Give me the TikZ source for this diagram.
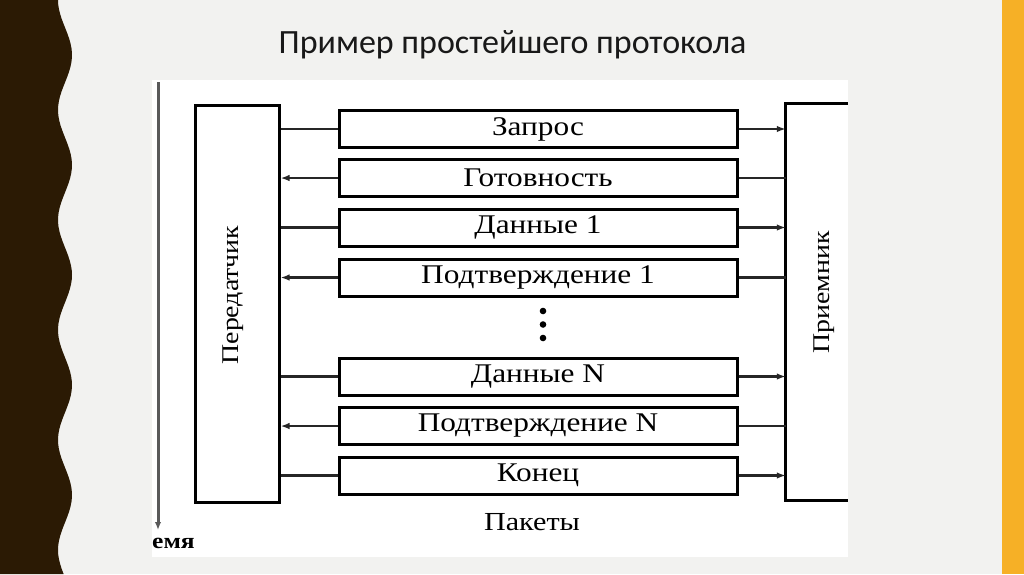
\documentclass[tikz,border=0pt]{standalone}
\usepackage{fontspec}
\setmainfont{Liberation Serif}[FakeStretch=1.16]
\newfontfamily\titlefont{Carlito}
\usetikzlibrary{arrows.meta}
\definecolor{slidebg}{HTML}{F2F2F0}
\definecolor{darkbrown}{HTML}{2B1A04}
\definecolor{accent}{HTML}{F6B026}
\definecolor{connc}{HTML}{262626}
\tikzset{
  pkt/.style={draw=black, line width=3pt, fill=white, minimum width=398pt, minimum height=37pt, inner sep=0pt, font=\fontsize{27}{30}\selectfont},
  bigbox/.style={draw=black, line width=3pt, inner sep=0pt},
  conn/.style={draw=connc, line width=2.1pt},
  tip/.style={-{Latex[length=9pt,width=6.5pt]}}
}
\begin{document}
\begin{tikzpicture}[x=1pt,y=-1pt]
\useasboundingbox (0,0) rectangle (1024,574);
\fill[slidebg] (0,0) rectangle (1024,574);
\fill[darkbrown] (0,0) -- plot[domain=0:574,samples=120] ({65+7*sin(3.272727*(\x-27.5))},\x) -- (0,574) -- cycle;
\fill[accent] (1002,0) rectangle (1024,574);
\node[font=\titlefont\fontsize{34}{40}\selectfont, text=black!90] (title) at (512.5,45) {Пример простейшего протокола};
\fill[white] (152,80) rectangle (848,557);
% time axis
\coordinate (tstart) at (158,82);
\coordinate (tend) at (158,530);
\draw[draw=black!65, line width=3pt, -{Latex[length=8pt,width=6.5pt]}] (tstart) -- (tend);
\node[font=\bfseries\fontsize{22}{24}\selectfont, anchor=base west, inner sep=0pt] (time) at (152,548) {емя};
% transmitter
\node[bigbox, minimum width=84pt, minimum height=397pt] (tx) at (237,303.5) {};
\node[rotate=90, font=\fontsize{24}{26}\selectfont, inner sep=0pt] (txl) at (233,295) {Передатчик};
% receiver
\node[minimum width=62pt, minimum height=396pt, inner sep=0pt] (rx) at (817,302) {};
\draw[black, line width=3pt] (rx.north east) -- (rx.north west) -- (rx.south west) -- (rx.south east);
\node[rotate=90, font=\fontsize{24}{26}\selectfont, inner sep=0pt] (rxl) at (824,292.5) {Приемник};
% packets
\node[pkt] (p1) at (538,129) {Запрос};
\node[pkt] (p2) at (538,178) {Готовность};
\node[pkt] (p3) at (538,227.5) {Данные 1};
\node[pkt] (p4) at (538,277.5) {Подтверждение 1};
\node[pkt] (p5) at (538,376.5) {Данные N};
\node[pkt] (p6) at (538,426) {Подтверждение N};
\node[pkt] (p7) at (538,475.5) {Конец};
\fill[black] (543,311) circle (3.3pt) (543,324.5) circle (3.3pt) (543,338) circle (3.3pt);
\node[font=\fontsize{26}{28}\selectfont] (lbl) at (532,522) {Пакеты};
% connectors: transmitter -> receiver
\foreach \p in {p1,p3,p5,p7}{
  \draw[conn] (\p.west) -- (\p.west -| tx.east);
  \draw[conn,tip] (\p.east) -- (\p.east -| rx.west);
}
% receiver -> transmitter
\foreach \p in {p2,p4,p6}{
  \draw[conn,tip] (\p.west) -- (\p.west -| tx.east);
  \draw[conn] (\p.east) -- (\p.east -| rx.west);
}
\end{tikzpicture}
\end{document}
